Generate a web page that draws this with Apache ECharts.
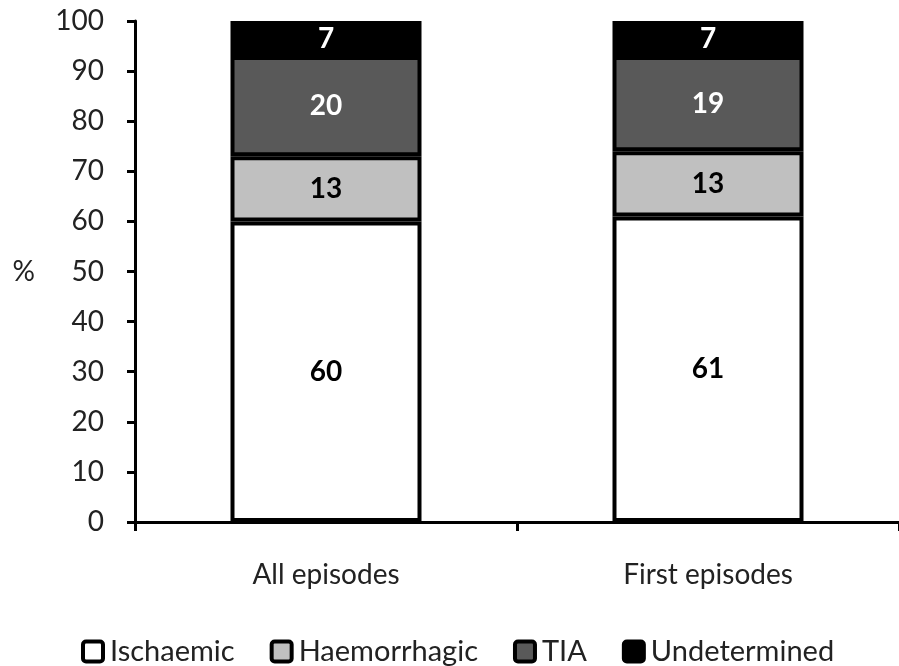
<!DOCTYPE html>
<html>
<head>
<meta charset="utf-8">
<script src="https://cdn.jsdelivr.net/npm/echarts@6/dist/echarts.min.js"></script>
<style>
  html, body { margin: 0; padding: 0; background: #fff; }
  #chart { width: 899px; height: 666px; }
</style>
</head>
<body>
<div id="chart"></div>
<script>
// Stroke type distribution (%), stacked per episode group
const categories = ['All episodes', 'First episodes'];
const ischaemic = [60, 61];
const haemorrhagic = [13, 13];
const tia = [20, 19];
const undetermined = [7, 7];
const yTicks = { min: 0, max: 100, interval: 10 };

const FONT = 'Lato';
const seriesNames = ['Ischaemic', 'Haemorrhagic', 'TIA', 'Undetermined'];
const fills = ['#ffffff', '#c0c0c0', '#595959', '#000000'];

function segment(name, data, fill, labelColor) {
  return {
    name: name,
    type: 'bar',
    stack: 'total',
    barWidth: '50%',
    data: data,
    itemStyle: { color: fill, borderColor: '#000', borderWidth: 4 },
    label: {
      show: true,
      position: 'inside',
      color: labelColor,
      fontFamily: FONT,
      fontWeight: 'bold',
      fontSize: 28
    },
    emphasis: { disabled: true }
  };
}

// Legend swatches are drawn as rich-text boxes so they can carry a heavy outline
const legendRich = {
  t: { fontFamily: FONT, fontSize: 29, color: '#222' },
  s: { fontFamily: FONT, fontSize: 29, width: 9 }
};
fills.forEach((f, i) => {
  legendRich['b' + i] = {
    width: 16, height: 16,
    backgroundColor: f,
    borderColor: '#000',
    borderWidth: 4,
    borderRadius: 1
  };
});

const chart = echarts.init(document.getElementById('chart'), null, { renderer: 'canvas' });
chart.setOption({
  animation: false,
  backgroundColor: '#fff',
  grid: { left: 135, right: -4, top: 21, bottom: 144, containLabel: false },
  legend: {
    left: 74,
    top: 632,
    itemWidth: 0,
    itemHeight: 0,
    itemGap: 33,
    icon: 'rect',
    data: seriesNames,
    formatter: name => `{b${seriesNames.indexOf(name)}|}{s| }{t|${name}}`,
    textStyle: { fontFamily: FONT, fontSize: 29, color: '#222', rich: legendRich },
    selectedMode: false
  },
  xAxis: {
    type: 'category',
    data: categories,
    axisLine: { lineStyle: { color: '#000', width: 3 } },
    axisTick: { show: true, length: 9, alignWithLabel: false, lineStyle: { color: '#000', width: 3 } },
    axisLabel: { fontFamily: FONT, fontSize: 28, color: '#222', margin: 39 }
  },
  yAxis: {
    type: 'value',
    min: yTicks.min,
    max: yTicks.max,
    interval: yTicks.interval,
    name: '%',
    nameLocation: 'middle',
    nameRotate: 0,
    nameGap: 100,
    nameTextStyle: { fontFamily: FONT, fontSize: 28, color: '#222' },
    splitLine: { show: false },
    axisLine: { show: true, lineStyle: { color: '#000', width: 3 } },
    axisTick: { show: true, length: 8, lineStyle: { color: '#000', width: 3 } },
    axisLabel: { fontFamily: FONT, fontSize: 28, color: '#222', margin: 31 }
  },
  series: [
    segment(seriesNames[0], ischaemic, fills[0], '#000'),
    segment(seriesNames[1], haemorrhagic, fills[1], '#000'),
    segment(seriesNames[2], tia, fills[2], '#fff'),
    segment(seriesNames[3], undetermined, fills[3], '#fff')
  ]
});
</script>
</body>
</html>
